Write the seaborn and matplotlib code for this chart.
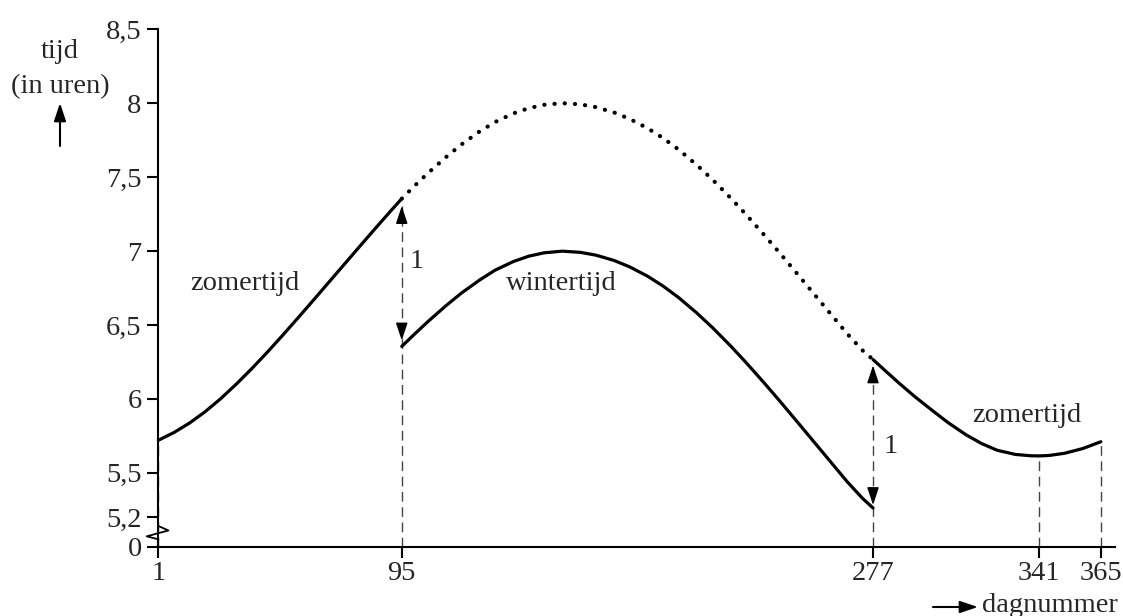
import pandas as pd
import seaborn as sns
import matplotlib.pyplot as plt

zomer_begin_dag = [1, 7, 13, 19, 25, 31, 37, 43, 49, 55, 61, 67, 73, 79, 85, 91, 95]
zomer_begin_uren = [5.720, 5.772, 5.836, 5.912, 6.000, 6.098, 6.203, 6.314, 6.430, 6.549,
                    6.670, 6.792, 6.914, 7.036, 7.157, 7.276, 7.354]

stippel_dag = [95, 100, 105, 112, 118, 125, 131, 138, 144, 150, 157, 164, 170, 177, 183,
               190, 196, 202, 209, 215, 222, 228, 235, 241, 247, 254, 260, 267, 273, 277]
stippel_uren = [7.354, 7.442, 7.525, 7.634, 7.720, 7.808, 7.872, 7.930, 7.966, 7.989,
                8.000, 7.992, 7.973, 7.937, 7.894, 7.830, 7.763, 7.685, 7.581, 7.483,
                7.359, 7.246, 7.108, 6.986, 6.861, 6.714, 6.588, 6.441, 6.327, 6.266]

winter_dag = [95, 100, 105, 112, 118, 125, 131, 138, 144, 150, 157, 164, 170, 177, 183,
              190, 196, 202, 209, 215, 222, 228, 235, 241, 247, 254, 260, 267, 273, 277]
winter_uren = [6.355, 6.439, 6.521, 6.629, 6.715, 6.803, 6.870, 6.928, 6.965, 6.988,
               6.999, 6.991, 6.972, 6.936, 6.893, 6.829, 6.762, 6.684, 6.580, 6.482,
               6.358, 6.245, 6.107, 5.985, 5.860, 5.713, 5.587, 5.440, 5.326, 5.262]

zomer_eind_dag = [277, 282, 287, 293, 300, 306, 313, 319, 325, 332, 338, 341, 345, 351, 358, 365]
zomer_eind_uren = [6.266, 6.186, 6.107, 6.017, 5.920, 5.839, 5.756, 5.697, 5.652, 5.624,
                   5.615, 5.614, 5.617, 5.632, 5.664, 5.710]

x_ticks = [1, 95, 277, 341, 365]
y_ticks = [5.0, 5.2, 5.5, 6, 6.5, 7, 7.5, 8, 8.5]
y_labels = ["0", "5,2", "5,5", "6", "6,5", "7", "7,5", "8", "8,5"]

sns.set_style("ticks")
plt.rcParams['font.family'] = ['Liberation Serif', 'DejaVu Serif']

fig = plt.figure(figsize=(11.23, 6.16), dpi=100)
ax = fig.add_axes([0.141, 0.1125, 0.852, 0.840])

# --- curves ---
df_zb = pd.DataFrame({"dag": zomer_begin_dag, "uren": zomer_begin_uren})
df_st = pd.DataFrame({"dag": stippel_dag, "uren": stippel_uren})
df_wi = pd.DataFrame({"dag": winter_dag, "uren": winter_uren})
df_ze = pd.DataFrame({"dag": zomer_eind_dag, "uren": zomer_eind_uren})

for df in [df_zb, df_wi, df_ze]:
    sns.lineplot(data=df, x="dag", y="uren", ax=ax, color="black", lw=2.3,
                 estimator=None, sort=False, clip_on=False, zorder=4,
                 solid_joinstyle="round")
sns.lineplot(data=df_st, x="dag", y="uren", ax=ax, color="black", lw=3.0,
             estimator=None, sort=False, linestyle=(0, (0.05, 2.4)),
             dash_capstyle="round", clip_on=False, zorder=4)

# --- stippellijnen naar de as ---
streep = dict(color="#444444", lw=1.0, linestyle=(0, (7, 4)), zorder=2, clip_on=False)
ax.vlines(x_ticks[0], 5.0, zomer_begin_uren[0], **streep)
ax.vlines(x_ticks[1], 5.0, stippel_uren[0] - 0.05, **streep)
ax.vlines(x_ticks[2], 5.0, stippel_uren[-1] - 0.04, **streep)
ax.vlines(x_ticks[3], 5.0, zomer_eind_uren[zomer_eind_dag.index(341)], **streep)
ax.vlines(x_ticks[4], 5.0, zomer_eind_uren[-1], **streep)

# pijlpunten van de "1"-pijlen
kop = dict(arrowstyle="-|>,head_length=0.6,head_width=0.2", color="black",
           lw=1.0, shrinkA=0, shrinkB=0, mutation_scale=18)
for dag, boven, onder in [(95, stippel_uren[0] - 0.05, winter_uren[0] + 0.04),
                          (277, stippel_uren[-1] - 0.04, winter_uren[-1] + 0.02)]:
    ax.annotate("", xy=(dag, boven), xytext=(dag, boven - 0.06), arrowprops=kop)
    ax.annotate("", xy=(dag, onder), xytext=(dag, onder + 0.06), arrowprops=kop)

# --- teksten ---
fs = 20.5
ax.text(34.5, 6.78, "zomertijd", fontsize=fs, ha="center", va="center")
ax.text(156.5, 6.78, "wintertijd", fontsize=fs, ha="center", va="center")
ax.text(336.5, 5.89, "zomertijd", fontsize=fs, ha="center", va="center")
ax.text(98, 6.93, "1", fontsize=fs, ha="left", va="center")
ax.text(281, 5.68, "1", fontsize=fs, ha="left", va="center")

# --- assen ---
ax.set_xlim(1, 370.5)
ax.set_ylim(5.0, 8.5)
ax.set_xticks(x_ticks)
ax.set_xticklabels([str(x) for x in x_ticks])
ax.set_yticks(y_ticks)
ax.set_yticklabels(y_labels)
ax.tick_params(axis="both", labelsize=fs, length=8, width=1.5, direction="out", color="black")
ax.tick_params(axis="x", pad=2)
ax.tick_params(axis="y", pad=4)
ax.set_xlabel("")
ax.set_ylabel("")
sns.despine(ax=ax)
for s in ["left", "bottom"]:
    ax.spines[s].set_linewidth(1.5)
    ax.spines[s].set_color("black")

# onderbreking van de verticale as
ax.plot([1, 4.9, -3.5, 1], [5.14, 5.11, 5.07, 5.05], color="black", lw=1.3,
        clip_on=False, zorder=5)

# aslabels buiten de grafiek
pijl = dict(arrowstyle="-|>,head_length=0.6,head_width=0.2",
            color="black", lw=1.5, shrinkA=0, shrinkB=0, mutation_scale=18)
fig.text(60 / 1123, 1 - 52 / 616, "tijd", fontsize=fs, ha="center", va="center")
fig.text(60 / 1123, 1 - 87 / 616, "(in uren)", fontsize=fs, ha="center", va="center")
plt.annotate("", xy=(60 / 1123, 1 - 103 / 616), xytext=(60 / 1123, 1 - 146 / 616),
             xycoords="figure fraction", textcoords="figure fraction", arrowprops=pijl)
plt.annotate("", xy=(978 / 1123, 1 - 607 / 616), xytext=(933 / 1123, 1 - 607 / 616),
             xycoords="figure fraction", textcoords="figure fraction", arrowprops=pijl)
fig.text(982 / 1123, 1 - 605 / 616, "dagnummer", fontsize=fs, ha="left", va="center")

plt.savefig("out.png", dpi=100)
plt.close()
